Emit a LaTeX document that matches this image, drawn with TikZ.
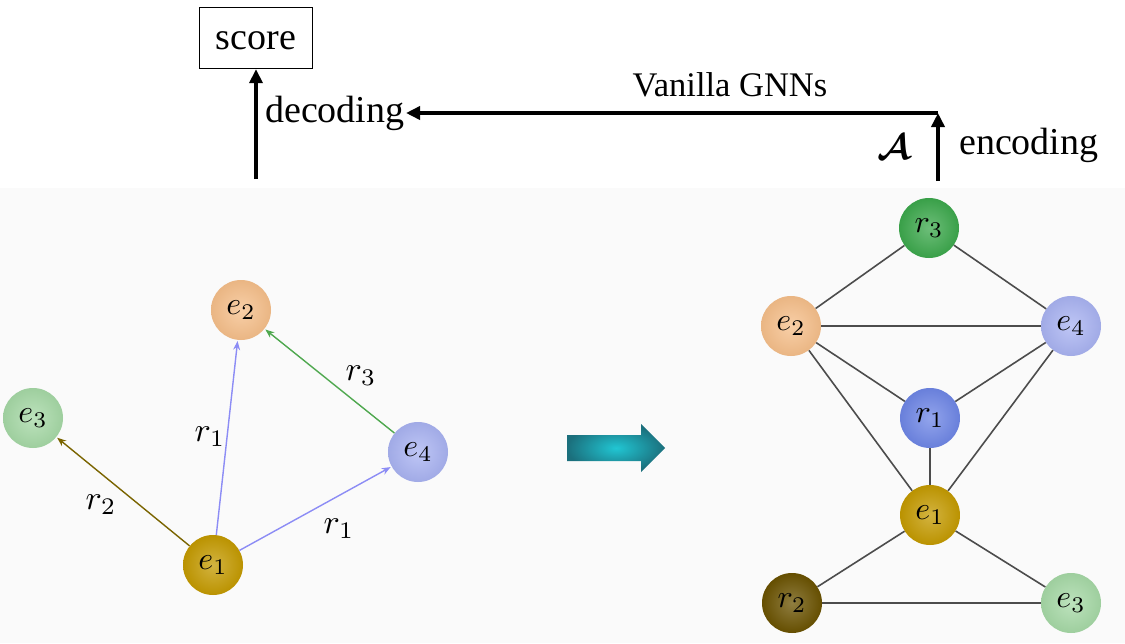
\documentclass[tikz,border=0pt]{standalone}
\usepackage{amsmath}
\usepackage{fontspec}
\setmainfont{Liberation Serif}
\usetikzlibrary{arrows.meta}
\newcommand{\mth}[2][3.2]{\scalebox{#1}{$#2$}}
\definecolor{cE1}{HTML}{C49A00}
\definecolor{cE2}{HTML}{F6BF8A}
\definecolor{cE3}{HTML}{A6D9A6}
\definecolor{cE4}{HTML}{A9B3F2}
\definecolor{cR1}{HTML}{6E86E6}
\definecolor{cR2}{HTML}{6A5200}
\definecolor{cR3}{HTML}{3CA84C}
\definecolor{eR1}{HTML}{8C8CF5}
\definecolor{eR2}{HTML}{7A6400}
\definecolor{eR3}{HTML}{4FA84F}
\definecolor{teal1}{HTML}{1B6F7C}
\definecolor{teal2}{HTML}{21C6D3}
\tikzset{
  ball/.style={circle, minimum size=60pt, inner sep=0pt, shading=radial,
    inner color=#1!75!white, outer color=#1!95!black},
  txt/.style={font=\fontsize{38}{42}\selectfont, inner sep=0pt},
  lab/.style={inner sep=0pt},
  kgedge/.style={line width=1.4pt, -{Stealth[length=9pt,width=7pt]}, shorten >=1pt},
  ugedge/.style={line width=1.6pt, draw=black!70},
  bigarrow/.style={line width=3.5pt, -{Triangle[length=14pt,width=13pt]}},
}
\begin{document}
\begin{tikzpicture}[x=1pt,y=-1pt]
\useasboundingbox (0,0) rectangle (1125,643);
\fill[white] (0,0) rectangle (1125,643);
\fill[black!2] (0,188) rectangle (1125,643);

% top part
\node[draw, line width=1.3pt, txt, minimum width=113pt, minimum height=61pt,
      text height=24pt, text depth=2pt] (score) at (256,38) {score};
\coordinate (decfoot) at (256,179);
\draw[bigarrow, line width=4pt] (decfoot) -- (score.south);
\node[txt, anchor=base west] (dec) at (265,122) {decoding};
\coordinate (encfoot) at (938,181);
\coordinate (corner) at (938,113);
\coordinate (hend) at (406,113);
\draw[bigarrow] (encfoot) -- (corner);
\draw[bigarrow] (corner) -- (hend);
\node[txt, font=\fontsize{34.5}{40}\selectfont, anchor=base] (van) at (730,96) {Vanilla GNNs};
\node[txt, anchor=base west] (enc) at (959,154) {encoding};
\node[inner sep=0pt] (calA) at (894,147) {\mth[3.6]{\boldsymbol{\mathcal{A}}}};

% left graph
\node[ball=cE2] (le2) at (241,310) {\mth{e_2}};
\node[ball=cE3] (le3) at (33,418) {\mth{e_3}};
\node[ball=cE4] (le4) at (418,452) {\mth{e_4}};
\node[ball=cE1] (le1) at (213,565) {\mth{e_1}};
\draw[kgedge, draw=eR1] (le1) -- (le2);
\draw[kgedge, draw=eR1] (le1) -- (le4);
\draw[kgedge, draw=eR2] (le1) -- (le3);
\draw[kgedge, draw=eR3] (le4) -- (le2);
\node[lab] (l1) at (210,437) {\mth[3.4]{r_1}};
\node[lab] (l2) at (101,505) {\mth[3.4]{r_2}};
\node[lab] (l3) at (339,529) {\mth[3.4]{r_1}};
\node[lab] (l4) at (361,376) {\mth[3.4]{r_3}};

% teal arrow
\shade[inner color=teal2, outer color=teal1, shading=radial]
  (567,435) -- (641,435) -- (641,424) -- (665,448) -- (641,472) -- (641,461) -- (567,461) -- cycle;

% right graph
\node[ball=cR3] (r3) at (929,228) {\mth{r_3}};
\node[ball=cE2] (e2) at (791,326) {\mth{e_2}};
\node[ball=cE4] (e4) at (1071,326) {\mth{e_4}};
\node[ball=cR1] (r1) at (930,418) {\mth{r_1}};
\node[ball=cE1] (e1) at (930,515) {\mth{e_1}};
\node[ball=cR2] (r2) at (792,603) {\mth{r_2}};
\node[ball=cE3] (e3) at (1071,603) {\mth{e_3}};
\draw[ugedge] (r3) -- (e2);
\draw[ugedge] (r3) -- (e4);
\draw[ugedge] (e2) -- (e4);
\draw[ugedge] (e2) -- (r1);
\draw[ugedge] (e4) -- (r1);
\draw[ugedge] (e2) -- (e1);
\draw[ugedge] (e4) -- (e1);
\draw[ugedge] (r1) -- (e1);
\draw[ugedge] (e1) -- (r2);
\draw[ugedge] (e1) -- (e3);
\draw[ugedge] (r2) -- (e3);
\end{tikzpicture}
\end{document}
